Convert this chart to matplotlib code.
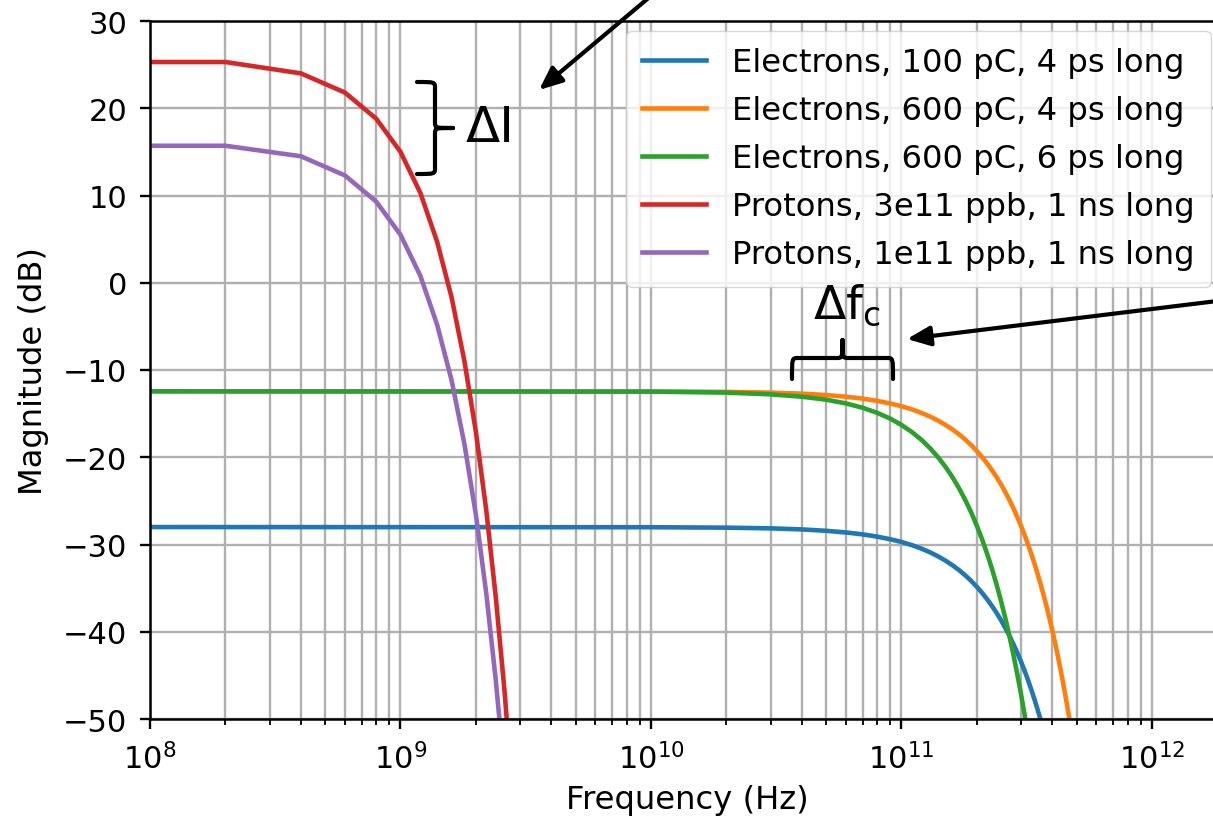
#!/usr/bin/env python3
"""
Longitudinal bunch spectra: magnitude of the beam current spectrum for
electron and proton bunches, plotted against frequency on a log axis.
"""
import matplotlib
matplotlib.use("Agg")
import matplotlib.pyplot as plt
from matplotlib.path import Path
from matplotlib.patches import PathPatch, FancyArrowPatch

W, H = 1213, 820

# Proton bunches (frequency in GHz, magnitude in dB)
freq_p = [0.1, 0.2, 0.4, 0.6, 0.8, 1.0, 1.2, 1.4, 1.6, 1.8, 2.0, 2.2, 2.4, 2.6, 2.8]
mag_p_3e11 = [25.3, 25.3, 24.0, 21.8, 18.8, 15.0, 10.3, 4.7, -1.7, -9.0,
              -17.1, -26.1, -36.0, -46.7, -58.3]
mag_p_1e11 = [15.7, 15.7, 14.5, 12.3, 9.3, 5.5, 0.8, -4.8, -11.2, -18.5,
              -26.6, -35.6, -45.5, -56.2]

# Electron bunches (frequency in GHz, magnitude in dB)
freq_e = [0.1, 10, 20, 30, 40, 50, 60, 70, 80, 90, 100, 110, 120, 130, 140,
          150, 160, 170, 180, 190, 200, 210, 220, 230, 240, 250, 260, 270,
          280, 290, 300, 310, 320, 330, 340, 350, 360, 370, 380, 390, 400,
          410, 420, 430, 440, 450, 460, 470, 480]
mag_e_100_4 = [-28.00, -28.02, -28.07, -28.15, -28.27, -28.43, -28.62, -28.84,
               -29.10, -29.39, -29.71, -30.07, -30.47, -30.90, -31.36, -31.86,
               -32.39, -32.95, -33.55, -34.19, -34.86, -35.56, -36.30, -37.07,
               -37.87, -38.71, -39.59, -40.50, -41.44, -42.42, -43.43, -44.47,
               -45.55, -46.67, -47.81, -49.00, -50.21, -51.47]
mag_e_600_4 = [-12.44, -12.46, -12.51, -12.59, -12.71, -12.87, -13.06, -13.28,
               -13.54, -13.83, -14.15, -14.51, -14.91, -15.34, -15.80, -16.30,
               -16.83, -17.39, -17.99, -18.63, -19.30, -20.00, -20.74, -21.51,
               -22.31, -23.15, -24.03, -24.94, -25.88, -26.86, -27.87, -28.91,
               -29.99, -31.11, -32.25, -33.44, -34.65, -35.91, -37.19, -38.51,
               -39.86, -41.25, -42.67, -44.13, -45.62, -47.15, -48.71, -50.30,
               -51.93]
mag_e_600_6 = [-12.44, -12.48, -12.59, -12.79, -13.06, -13.40, -13.83, -14.33,
               -14.91, -15.56, -16.30, -17.11, -17.99, -18.96, -20.00, -21.12,
               -22.31, -23.59, -24.94, -26.36, -27.87, -29.45, -31.11, -32.84,
               -34.66, -36.55, -38.51, -40.56, -42.68, -44.88, -47.15, -49.51,
               -51.94]

labels = ["Electrons, 100 pC, 4 ps long",
          "Electrons, 600 pC, 4 ps long",
          "Electrons, 600 pC, 6 ps long",
          "Protons, 3e11 ppb, 1 ns long",
          "Protons, 1e11 ppb, 1 ns long"]
colors = ["#1f77b4", "#ff7f0e", "#2ca02c", "#d62728", "#9467bd"]

yticks = [-50, -40, -30, -20, -10, 0, 10, 20, 30]


def fig_xy(x, y):
    # pixel position (from top-left) -> figure fraction
    return (x / W, 1 - y / H)


def brace(fig, origin, along, perp, length, mid, tip, r=6, lw=3.0):
    ox, oy = origin
    ax_, ay_ = along
    px_, py_ = perp
    half = length / 2

    def pt(u, v):
        return fig_xy(ox + u * ax_ + v * px_, oy + u * ay_ + v * py_)

    verts = [pt(0, 0),
             pt(0, mid), pt(0, mid), pt(r, mid),
             pt(half - r, mid),
             pt(half, mid), pt(half, mid), pt(half, tip),
             pt(half, mid), pt(half, mid), pt(half + r, mid),
             pt(length - r, mid),
             pt(length, mid), pt(length, mid), pt(length, 0)]
    codes = ([Path.MOVETO] + [Path.CURVE4] * 3 + [Path.LINETO]
             + [Path.CURVE4] * 6 + [Path.LINETO] + [Path.CURVE4] * 3)
    patch = PathPatch(Path(verts, codes), facecolor="none", edgecolor="black",
                      lw=lw, capstyle="round", joinstyle="round",
                      transform=fig.transFigure)
    fig.add_artist(patch)


def arrow(fig, start, end):
    a = FancyArrowPatch(fig_xy(*start), fig_xy(*end),
                        transform=fig.transFigure,
                        arrowstyle="-|>,head_length=0.7,head_width=0.3",
                        mutation_scale=20, lw=3.0, color="black",
                        shrinkA=0, shrinkB=0, zorder=10)
    fig.add_artist(a)


def main():
    plt.rcParams["font.family"] = ["DejaVu Sans"]
    fig = plt.figure(figsize=(W / 100, H / 100), dpi=100)

    # axes run a little past the right-hand edge of the figure
    right_px = 1224
    ax = fig.add_axes([150 / W, 100 / H, (right_px - 150) / W, 698 / H])

    series_e = [mag_e_100_4, mag_e_600_4, mag_e_600_6]
    for mag, lab, col in zip(series_e, labels[:3], colors[:3]):
        f = [v * 1e9 for v in freq_e[:len(mag)]]
        ax.plot(f, mag, color=col, lw=3.3, label=lab)
    for mag, lab, col in zip([mag_p_3e11, mag_p_1e11], labels[3:], colors[3:]):
        f = [v * 1e9 for v in freq_p[:len(mag)]]
        ax.plot(f, mag, color=col, lw=3.3, label=lab)

    ax.set_xscale("log")
    px_per_decade = 250.5
    ax.set_xlim(1e8, 10 ** (8 + (right_px - 150) / px_per_decade))
    ax.set_ylim(-50, 30)
    ax.set_yticks(yticks)

    ax.grid(True, which="both", axis="x", color="#b0b0b0", lw=1.7)
    ax.grid(True, which="major", axis="y", color="#b0b0b0", lw=1.7)
    ax.set_axisbelow(True)

    for s in ax.spines.values():
        s.set_linewidth(1.8)
    ax.tick_params(which="major", labelsize=22, length=7.5, width=1.7, pad=9)
    ax.tick_params(which="minor", length=4.3, width=1.3)

    ax.set_xlabel("Frequency (Hz)", fontsize=23.2, labelpad=7)
    ax.set_ylabel("Magnitude (dB)", fontsize=23.2, labelpad=10)

    ax.legend(loc="upper right", fontsize=23.2,
              bbox_to_anchor=fig_xy(1211, 32), bbox_transform=fig.transFigure,
              handlelength=2.0, borderpad=0.5, labelspacing=0.53,
              handletextpad=0.8, borderaxespad=0)

    # current difference between the proton bunches
    brace(fig, (417, 83), (0, 1), (1, 0), 92, 18, 36)
    fig.text(*fig_xy(466, 142), "\u0394I", fontsize=36, ha="left", va="baseline")
    arrow(fig, (683, -30), (539, 91))

    # cut-off frequency shift for the electron bunches
    brace(fig, (792, 380), (1, 0), (0, -1), 101, 21, 39)
    fig.text(*fig_xy(813, 319), r"$\Delta\mathrm{f}_{\mathrm{c}}$",
             fontsize=34, ha="left", va="baseline")
    arrow(fig, (1250, 298), (907, 340))

    fig.savefig("out.png", dpi=100)


if __name__ == "__main__":
    main()
